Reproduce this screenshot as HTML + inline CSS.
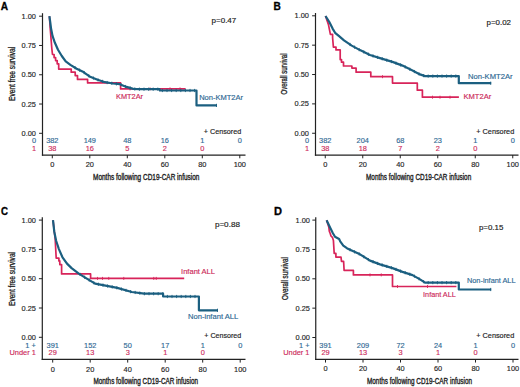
<!DOCTYPE html>
<html><head><meta charset="utf-8"><style>
html,body{margin:0;padding:0;background:#fff;width:520px;height:387px;overflow:hidden}
svg{display:block}
text{font-family:"Liberation Sans",sans-serif;stroke-width:0.16px;paint-order:stroke}
</style></head><body>
<svg width="520" height="387" viewBox="0 0 520 387">
<rect width="520" height="387" fill="#fff"/>
<text x="0.70" y="10.42" font-size="10.6" fill="#000" stroke="#000" style="stroke-width:0.3px" font-weight="bold" textLength="7.30" lengthAdjust="spacingAndGlyphs">A</text>
<text transform="translate(14.62,73.90) rotate(-90)" x="-27.00" y="0" font-size="8.4" fill="#222222" stroke="#222222" style="stroke-width:0.3px" textLength="54.00" lengthAdjust="spacingAndGlyphs">Event free survival</text>
<line x1="42.50" y1="13.20" x2="42.50" y2="155.70" stroke="#222222" stroke-width="1.2"/>
<line x1="41.90" y1="155.10" x2="245.50" y2="155.10" stroke="#222222" stroke-width="1.4"/>
<line x1="39.10" y1="16.20" x2="42.50" y2="16.20" stroke="#222222" stroke-width="1"/>
<text x="21.60" y="18.78" font-size="8.0" fill="#222222" stroke="#222222" style="stroke-width:0.15px" textLength="14.40" lengthAdjust="spacingAndGlyphs">1.00</text>
<line x1="39.10" y1="45.48" x2="42.50" y2="45.48" stroke="#222222" stroke-width="1"/>
<text x="21.60" y="48.06" font-size="8.0" fill="#222222" stroke="#222222" style="stroke-width:0.15px" textLength="14.40" lengthAdjust="spacingAndGlyphs">0.75</text>
<line x1="39.10" y1="74.75" x2="42.50" y2="74.75" stroke="#222222" stroke-width="1"/>
<text x="21.60" y="77.33" font-size="8.0" fill="#222222" stroke="#222222" style="stroke-width:0.15px" textLength="14.40" lengthAdjust="spacingAndGlyphs">0.50</text>
<line x1="39.10" y1="104.03" x2="42.50" y2="104.03" stroke="#222222" stroke-width="1"/>
<text x="21.60" y="106.61" font-size="8.0" fill="#222222" stroke="#222222" style="stroke-width:0.15px" textLength="14.40" lengthAdjust="spacingAndGlyphs">0.25</text>
<line x1="39.10" y1="133.30" x2="42.50" y2="133.30" stroke="#222222" stroke-width="1"/>
<text x="21.60" y="135.88" font-size="8.0" fill="#222222" stroke="#222222" style="stroke-width:0.15px" textLength="14.40" lengthAdjust="spacingAndGlyphs">0.00</text>
<line x1="52.30" y1="155.00" x2="52.30" y2="158.30" stroke="#222222" stroke-width="1"/>
<text x="50.24" y="166.78" font-size="8.0" fill="#222222" stroke="#222222" style="stroke-width:0.15px" textLength="4.12" lengthAdjust="spacingAndGlyphs">0</text>
<line x1="89.80" y1="155.00" x2="89.80" y2="158.30" stroke="#222222" stroke-width="1"/>
<text x="85.68" y="166.78" font-size="8.0" fill="#222222" stroke="#222222" style="stroke-width:0.15px" textLength="8.23" lengthAdjust="spacingAndGlyphs">20</text>
<line x1="127.30" y1="155.00" x2="127.30" y2="158.30" stroke="#222222" stroke-width="1"/>
<text x="123.18" y="166.78" font-size="8.0" fill="#222222" stroke="#222222" style="stroke-width:0.15px" textLength="8.23" lengthAdjust="spacingAndGlyphs">40</text>
<line x1="164.80" y1="155.00" x2="164.80" y2="158.30" stroke="#222222" stroke-width="1"/>
<text x="160.68" y="166.78" font-size="8.0" fill="#222222" stroke="#222222" style="stroke-width:0.15px" textLength="8.23" lengthAdjust="spacingAndGlyphs">60</text>
<line x1="202.30" y1="155.00" x2="202.30" y2="158.30" stroke="#222222" stroke-width="1"/>
<text x="198.18" y="166.78" font-size="8.0" fill="#222222" stroke="#222222" style="stroke-width:0.15px" textLength="8.23" lengthAdjust="spacingAndGlyphs">80</text>
<line x1="239.80" y1="155.00" x2="239.80" y2="158.30" stroke="#222222" stroke-width="1"/>
<text x="233.63" y="166.78" font-size="8.0" fill="#222222" stroke="#222222" style="stroke-width:0.15px" textLength="12.35" lengthAdjust="spacingAndGlyphs">100</text>
<text x="93.00" y="179.72" font-size="8.4" fill="#222222" stroke="#222222" style="stroke-width:0.35px" font-weight="normal" textLength="106.40" lengthAdjust="spacingAndGlyphs">Months following CD19-CAR infusion</text>
<text x="46.13" y="143.08" font-size="8.0" fill="#2f6994" stroke="#2f6994" style="stroke-width:0.15px" textLength="12.35" lengthAdjust="spacingAndGlyphs">382</text>
<text x="83.63" y="143.08" font-size="8.0" fill="#2f6994" stroke="#2f6994" style="stroke-width:0.15px" textLength="12.35" lengthAdjust="spacingAndGlyphs">149</text>
<text x="123.18" y="143.08" font-size="8.0" fill="#2f6994" stroke="#2f6994" style="stroke-width:0.15px" textLength="8.23" lengthAdjust="spacingAndGlyphs">48</text>
<text x="160.68" y="143.08" font-size="8.0" fill="#2f6994" stroke="#2f6994" style="stroke-width:0.15px" textLength="8.23" lengthAdjust="spacingAndGlyphs">16</text>
<text x="200.24" y="143.08" font-size="8.0" fill="#2f6994" stroke="#2f6994" style="stroke-width:0.15px" textLength="4.12" lengthAdjust="spacingAndGlyphs">1</text>
<text x="237.74" y="143.08" font-size="8.0" fill="#2f6994" stroke="#2f6994" style="stroke-width:0.15px" textLength="4.12" lengthAdjust="spacingAndGlyphs">0</text>
<text x="48.18" y="150.78" font-size="8.0" fill="#cc2a5a" stroke="#cc2a5a" style="stroke-width:0.15px" textLength="8.23" lengthAdjust="spacingAndGlyphs">38</text>
<text x="85.68" y="150.78" font-size="8.0" fill="#cc2a5a" stroke="#cc2a5a" style="stroke-width:0.15px" textLength="8.23" lengthAdjust="spacingAndGlyphs">16</text>
<text x="125.24" y="150.78" font-size="8.0" fill="#cc2a5a" stroke="#cc2a5a" style="stroke-width:0.15px" textLength="4.12" lengthAdjust="spacingAndGlyphs">5</text>
<text x="162.74" y="150.78" font-size="8.0" fill="#cc2a5a" stroke="#cc2a5a" style="stroke-width:0.15px" textLength="4.12" lengthAdjust="spacingAndGlyphs">2</text>
<text x="200.24" y="150.78" font-size="8.0" fill="#cc2a5a" stroke="#cc2a5a" style="stroke-width:0.15px" textLength="4.12" lengthAdjust="spacingAndGlyphs">0</text>
<text x="31.88" y="143.08" font-size="8.0" fill="#2f6994" stroke="#2f6994" style="stroke-width:0.15px" textLength="4.12" lengthAdjust="spacingAndGlyphs">0</text>
<text x="31.88" y="150.78" font-size="8.0" fill="#cc2a5a" stroke="#cc2a5a" style="stroke-width:0.15px" textLength="4.12" lengthAdjust="spacingAndGlyphs">1</text>
<text x="203.80" y="133.66" font-size="7.4" fill="#222222" stroke="#222222" font-weight="normal" textLength="37.40" lengthAdjust="spacingAndGlyphs">+ Censored</text>
<text x="211.50" y="23.36" font-size="7.4" fill="#222222" stroke="#222222" font-weight="normal" textLength="24.80" lengthAdjust="spacingAndGlyphs">p=0.47</text>
<polyline points="49.40,16.20 50.20,28.10 51.80,48.30 52.50,54.50 54.10,54.50 54.10,57.60 55.60,57.60 55.60,60.60 57.20,60.60 57.20,63.80 58.70,63.80 58.70,69.10 71.20,69.10 71.20,72.20 75.20,72.20 75.20,75.60 77.50,75.60 77.50,79.40 87.60,79.40 87.60,82.90 120.60,82.90 120.60,88.90 185.60,88.90" fill="none" stroke="#d8245a" stroke-width="1.7" stroke-linejoin="round" stroke-linecap="butt"/>
<line x1="130.00" y1="87.40" x2="130.00" y2="90.40" stroke="#d8245a" stroke-width="0.9"/>
<line x1="150.00" y1="87.40" x2="150.00" y2="90.40" stroke="#d8245a" stroke-width="0.9"/>
<line x1="170.00" y1="87.40" x2="170.00" y2="90.40" stroke="#d8245a" stroke-width="0.9"/>
<line x1="180.00" y1="87.40" x2="180.00" y2="90.40" stroke="#d8245a" stroke-width="0.9"/>
<polyline points="49.40,16.20 50.20,21.90 51.00,28.10 52.50,35.90 54.90,42.80 58.00,49.80 61.80,56.00 65.70,61.40 70.40,64.90 76.70,68.70 83.50,72.10 90.20,76.80 96.90,79.50 105.00,82.20 113.10,83.50 119.80,84.20 126.50,86.90 133.30,88.90 140.00,89.20 159.60,89.20 159.80,90.50 196.50,90.50 196.50,105.40 217.00,105.40" fill="none" stroke="#1b5f80" stroke-width="2.2" stroke-linejoin="round" stroke-linecap="butt"/>
<line x1="75.00" y1="66.07" x2="75.00" y2="69.27" stroke="#1b5f80" stroke-width="0.9"/>
<line x1="79.60" y1="68.55" x2="79.60" y2="71.75" stroke="#1b5f80" stroke-width="0.9"/>
<line x1="84.20" y1="70.99" x2="84.20" y2="74.19" stroke="#1b5f80" stroke-width="0.9"/>
<line x1="88.80" y1="74.22" x2="88.80" y2="77.42" stroke="#1b5f80" stroke-width="0.9"/>
<line x1="93.40" y1="76.49" x2="93.40" y2="79.69" stroke="#1b5f80" stroke-width="0.9"/>
<line x1="98.00" y1="78.27" x2="98.00" y2="81.47" stroke="#1b5f80" stroke-width="0.9"/>
<line x1="102.60" y1="79.80" x2="102.60" y2="83.00" stroke="#1b5f80" stroke-width="0.9"/>
<line x1="107.20" y1="80.95" x2="107.20" y2="84.15" stroke="#1b5f80" stroke-width="0.9"/>
<line x1="111.80" y1="81.69" x2="111.80" y2="84.89" stroke="#1b5f80" stroke-width="0.9"/>
<line x1="116.40" y1="82.24" x2="116.40" y2="85.44" stroke="#1b5f80" stroke-width="0.9"/>
<line x1="121.00" y1="83.08" x2="121.00" y2="86.28" stroke="#1b5f80" stroke-width="0.9"/>
<line x1="125.60" y1="84.94" x2="125.60" y2="88.14" stroke="#1b5f80" stroke-width="0.9"/>
<line x1="130.20" y1="86.39" x2="130.20" y2="89.59" stroke="#1b5f80" stroke-width="0.9"/>
<line x1="134.80" y1="87.37" x2="134.80" y2="90.57" stroke="#1b5f80" stroke-width="0.9"/>
<line x1="139.40" y1="87.57" x2="139.40" y2="90.77" stroke="#1b5f80" stroke-width="0.9"/>
<line x1="144.00" y1="87.60" x2="144.00" y2="90.80" stroke="#1b5f80" stroke-width="0.9"/>
<line x1="148.60" y1="87.60" x2="148.60" y2="90.80" stroke="#1b5f80" stroke-width="0.9"/>
<line x1="153.20" y1="87.60" x2="153.20" y2="90.80" stroke="#1b5f80" stroke-width="0.9"/>
<line x1="157.80" y1="87.60" x2="157.80" y2="90.80" stroke="#1b5f80" stroke-width="0.9"/>
<line x1="162.40" y1="88.90" x2="162.40" y2="92.10" stroke="#1b5f80" stroke-width="0.9"/>
<line x1="167.00" y1="88.90" x2="167.00" y2="92.10" stroke="#1b5f80" stroke-width="0.9"/>
<line x1="171.60" y1="88.90" x2="171.60" y2="92.10" stroke="#1b5f80" stroke-width="0.9"/>
<line x1="176.20" y1="88.90" x2="176.20" y2="92.10" stroke="#1b5f80" stroke-width="0.9"/>
<line x1="180.80" y1="88.90" x2="180.80" y2="92.10" stroke="#1b5f80" stroke-width="0.9"/>
<line x1="185.40" y1="88.90" x2="185.40" y2="92.10" stroke="#1b5f80" stroke-width="0.9"/>
<line x1="190.00" y1="88.90" x2="190.00" y2="92.10" stroke="#1b5f80" stroke-width="0.9"/>
<line x1="194.60" y1="88.90" x2="194.60" y2="92.10" stroke="#1b5f80" stroke-width="0.9"/>
<line x1="216.50" y1="103.80" x2="216.50" y2="107.00" stroke="#1b5f80" stroke-width="0.9"/>
<text x="116.00" y="99.06" font-size="7.4" fill="#cc2a5a" stroke="#cc2a5a" font-weight="normal" textLength="27.00" lengthAdjust="spacingAndGlyphs">KMT2Ar</text>
<text x="199.20" y="99.86" font-size="7.4" fill="#2f6994" stroke="#2f6994" font-weight="normal" textLength="43.80" lengthAdjust="spacingAndGlyphs">Non-KMT2Ar</text>
<text x="273.40" y="10.42" font-size="10.6" fill="#000" stroke="#000" style="stroke-width:0.3px" font-weight="bold" textLength="7.30" lengthAdjust="spacingAndGlyphs">B</text>
<text transform="translate(287.22,74.00) rotate(-90)" x="-20.50" y="0" font-size="8.4" fill="#222222" stroke="#222222" style="stroke-width:0.3px" textLength="41.00" lengthAdjust="spacingAndGlyphs">Overall survival</text>
<line x1="315.50" y1="13.00" x2="315.50" y2="155.70" stroke="#222222" stroke-width="1.2"/>
<line x1="314.90" y1="155.10" x2="518.50" y2="155.10" stroke="#222222" stroke-width="1.4"/>
<line x1="312.10" y1="15.80" x2="315.50" y2="15.80" stroke="#222222" stroke-width="1"/>
<text x="294.60" y="18.38" font-size="8.0" fill="#222222" stroke="#222222" style="stroke-width:0.15px" textLength="14.40" lengthAdjust="spacingAndGlyphs">1.00</text>
<line x1="312.10" y1="45.16" x2="315.50" y2="45.16" stroke="#222222" stroke-width="1"/>
<text x="294.60" y="47.74" font-size="8.0" fill="#222222" stroke="#222222" style="stroke-width:0.15px" textLength="14.40" lengthAdjust="spacingAndGlyphs">0.75</text>
<line x1="312.10" y1="74.53" x2="315.50" y2="74.53" stroke="#222222" stroke-width="1"/>
<text x="294.60" y="77.11" font-size="8.0" fill="#222222" stroke="#222222" style="stroke-width:0.15px" textLength="14.40" lengthAdjust="spacingAndGlyphs">0.50</text>
<line x1="312.10" y1="103.89" x2="315.50" y2="103.89" stroke="#222222" stroke-width="1"/>
<text x="294.60" y="106.47" font-size="8.0" fill="#222222" stroke="#222222" style="stroke-width:0.15px" textLength="14.40" lengthAdjust="spacingAndGlyphs">0.25</text>
<line x1="312.10" y1="133.25" x2="315.50" y2="133.25" stroke="#222222" stroke-width="1"/>
<text x="294.60" y="135.83" font-size="8.0" fill="#222222" stroke="#222222" style="stroke-width:0.15px" textLength="14.40" lengthAdjust="spacingAndGlyphs">0.00</text>
<line x1="325.25" y1="155.00" x2="325.25" y2="158.30" stroke="#222222" stroke-width="1"/>
<text x="323.19" y="167.08" font-size="8.0" fill="#222222" stroke="#222222" style="stroke-width:0.15px" textLength="4.12" lengthAdjust="spacingAndGlyphs">0</text>
<line x1="362.75" y1="155.00" x2="362.75" y2="158.30" stroke="#222222" stroke-width="1"/>
<text x="358.63" y="167.08" font-size="8.0" fill="#222222" stroke="#222222" style="stroke-width:0.15px" textLength="8.23" lengthAdjust="spacingAndGlyphs">20</text>
<line x1="400.25" y1="155.00" x2="400.25" y2="158.30" stroke="#222222" stroke-width="1"/>
<text x="396.13" y="167.08" font-size="8.0" fill="#222222" stroke="#222222" style="stroke-width:0.15px" textLength="8.23" lengthAdjust="spacingAndGlyphs">40</text>
<line x1="437.75" y1="155.00" x2="437.75" y2="158.30" stroke="#222222" stroke-width="1"/>
<text x="433.63" y="167.08" font-size="8.0" fill="#222222" stroke="#222222" style="stroke-width:0.15px" textLength="8.23" lengthAdjust="spacingAndGlyphs">60</text>
<line x1="475.25" y1="155.00" x2="475.25" y2="158.30" stroke="#222222" stroke-width="1"/>
<text x="471.13" y="167.08" font-size="8.0" fill="#222222" stroke="#222222" style="stroke-width:0.15px" textLength="8.23" lengthAdjust="spacingAndGlyphs">80</text>
<line x1="512.75" y1="155.00" x2="512.75" y2="158.30" stroke="#222222" stroke-width="1"/>
<text x="506.58" y="167.08" font-size="8.0" fill="#222222" stroke="#222222" style="stroke-width:0.15px" textLength="12.35" lengthAdjust="spacingAndGlyphs">100</text>
<text x="366.00" y="179.92" font-size="8.4" fill="#222222" stroke="#222222" style="stroke-width:0.35px" font-weight="normal" textLength="105.25" lengthAdjust="spacingAndGlyphs">Months following CD19-CAR infusion</text>
<text x="319.08" y="143.08" font-size="8.0" fill="#2f6994" stroke="#2f6994" style="stroke-width:0.15px" textLength="12.35" lengthAdjust="spacingAndGlyphs">382</text>
<text x="356.58" y="143.08" font-size="8.0" fill="#2f6994" stroke="#2f6994" style="stroke-width:0.15px" textLength="12.35" lengthAdjust="spacingAndGlyphs">204</text>
<text x="396.13" y="143.08" font-size="8.0" fill="#2f6994" stroke="#2f6994" style="stroke-width:0.15px" textLength="8.23" lengthAdjust="spacingAndGlyphs">68</text>
<text x="433.63" y="143.08" font-size="8.0" fill="#2f6994" stroke="#2f6994" style="stroke-width:0.15px" textLength="8.23" lengthAdjust="spacingAndGlyphs">23</text>
<text x="473.19" y="143.08" font-size="8.0" fill="#2f6994" stroke="#2f6994" style="stroke-width:0.15px" textLength="4.12" lengthAdjust="spacingAndGlyphs">1</text>
<text x="510.69" y="143.08" font-size="8.0" fill="#2f6994" stroke="#2f6994" style="stroke-width:0.15px" textLength="4.12" lengthAdjust="spacingAndGlyphs">0</text>
<text x="321.13" y="150.78" font-size="8.0" fill="#cc2a5a" stroke="#cc2a5a" style="stroke-width:0.15px" textLength="8.23" lengthAdjust="spacingAndGlyphs">38</text>
<text x="358.63" y="150.78" font-size="8.0" fill="#cc2a5a" stroke="#cc2a5a" style="stroke-width:0.15px" textLength="8.23" lengthAdjust="spacingAndGlyphs">18</text>
<text x="398.19" y="150.78" font-size="8.0" fill="#cc2a5a" stroke="#cc2a5a" style="stroke-width:0.15px" textLength="4.12" lengthAdjust="spacingAndGlyphs">7</text>
<text x="435.69" y="150.78" font-size="8.0" fill="#cc2a5a" stroke="#cc2a5a" style="stroke-width:0.15px" textLength="4.12" lengthAdjust="spacingAndGlyphs">2</text>
<text x="473.19" y="150.78" font-size="8.0" fill="#cc2a5a" stroke="#cc2a5a" style="stroke-width:0.15px" textLength="4.12" lengthAdjust="spacingAndGlyphs">0</text>
<text x="304.88" y="143.08" font-size="8.0" fill="#2f6994" stroke="#2f6994" style="stroke-width:0.15px" textLength="4.12" lengthAdjust="spacingAndGlyphs">0</text>
<text x="304.88" y="150.78" font-size="8.0" fill="#cc2a5a" stroke="#cc2a5a" style="stroke-width:0.15px" textLength="4.12" lengthAdjust="spacingAndGlyphs">1</text>
<text x="476.25" y="133.81" font-size="7.4" fill="#222222" stroke="#222222" font-weight="normal" textLength="38.00" lengthAdjust="spacingAndGlyphs">+ Censored</text>
<text x="486.60" y="25.26" font-size="7.4" fill="#222222" stroke="#222222" font-weight="normal" textLength="24.40" lengthAdjust="spacingAndGlyphs">p=0.02</text>
<polyline points="325.50,16.00 328.40,24.40 330.40,34.40 332.60,34.40 332.60,37.80 333.40,47.10 336.00,47.10 336.00,49.90 340.20,49.90 340.20,59.60 341.50,59.60 341.50,62.20 343.50,62.20 343.50,66.00 351.90,66.00 351.90,68.10 356.10,68.10 356.10,72.20 370.80,72.20 370.80,76.70 392.50,76.70 392.50,83.10 417.30,83.10 417.30,90.20 422.40,90.20 422.40,97.20 458.90,97.20" fill="none" stroke="#d8245a" stroke-width="1.7" stroke-linejoin="round" stroke-linecap="butt"/>
<line x1="382.50" y1="75.20" x2="382.50" y2="78.20" stroke="#d8245a" stroke-width="0.9"/>
<line x1="432.50" y1="95.70" x2="432.50" y2="98.70" stroke="#d8245a" stroke-width="0.9"/>
<line x1="440.00" y1="95.70" x2="440.00" y2="98.70" stroke="#d8245a" stroke-width="0.9"/>
<line x1="450.00" y1="95.70" x2="450.00" y2="98.70" stroke="#d8245a" stroke-width="0.9"/>
<polyline points="325.50,16.00 329.20,21.80 332.60,28.60 335.10,32.80 338.80,35.90 344.00,40.40 351.70,45.60 360.00,50.10 370.00,55.00 380.00,58.10 392.50,61.90 402.50,65.60 412.50,70.60 420.00,74.40 425.00,76.10 458.80,76.10 458.80,83.20 491.20,83.20" fill="none" stroke="#1b5f80" stroke-width="2.2" stroke-linejoin="round" stroke-linecap="butt"/>
<line x1="350.00" y1="42.85" x2="350.00" y2="46.05" stroke="#1b5f80" stroke-width="0.9"/>
<line x1="354.60" y1="45.57" x2="354.60" y2="48.77" stroke="#1b5f80" stroke-width="0.9"/>
<line x1="359.20" y1="48.07" x2="359.20" y2="51.27" stroke="#1b5f80" stroke-width="0.9"/>
<line x1="363.80" y1="50.36" x2="363.80" y2="53.56" stroke="#1b5f80" stroke-width="0.9"/>
<line x1="368.40" y1="52.62" x2="368.40" y2="55.82" stroke="#1b5f80" stroke-width="0.9"/>
<line x1="373.00" y1="54.33" x2="373.00" y2="57.53" stroke="#1b5f80" stroke-width="0.9"/>
<line x1="377.60" y1="55.76" x2="377.60" y2="58.96" stroke="#1b5f80" stroke-width="0.9"/>
<line x1="382.20" y1="57.17" x2="382.20" y2="60.37" stroke="#1b5f80" stroke-width="0.9"/>
<line x1="386.80" y1="58.57" x2="386.80" y2="61.77" stroke="#1b5f80" stroke-width="0.9"/>
<line x1="391.40" y1="59.97" x2="391.40" y2="63.17" stroke="#1b5f80" stroke-width="0.9"/>
<line x1="396.00" y1="61.60" x2="396.00" y2="64.80" stroke="#1b5f80" stroke-width="0.9"/>
<line x1="400.60" y1="63.30" x2="400.60" y2="66.50" stroke="#1b5f80" stroke-width="0.9"/>
<line x1="405.20" y1="65.35" x2="405.20" y2="68.55" stroke="#1b5f80" stroke-width="0.9"/>
<line x1="409.80" y1="67.65" x2="409.80" y2="70.85" stroke="#1b5f80" stroke-width="0.9"/>
<line x1="414.40" y1="69.96" x2="414.40" y2="73.16" stroke="#1b5f80" stroke-width="0.9"/>
<line x1="419.00" y1="72.29" x2="419.00" y2="75.49" stroke="#1b5f80" stroke-width="0.9"/>
<line x1="423.60" y1="74.02" x2="423.60" y2="77.22" stroke="#1b5f80" stroke-width="0.9"/>
<line x1="428.20" y1="74.50" x2="428.20" y2="77.70" stroke="#1b5f80" stroke-width="0.9"/>
<line x1="432.80" y1="74.50" x2="432.80" y2="77.70" stroke="#1b5f80" stroke-width="0.9"/>
<line x1="437.40" y1="74.50" x2="437.40" y2="77.70" stroke="#1b5f80" stroke-width="0.9"/>
<line x1="442.00" y1="74.50" x2="442.00" y2="77.70" stroke="#1b5f80" stroke-width="0.9"/>
<line x1="446.60" y1="74.50" x2="446.60" y2="77.70" stroke="#1b5f80" stroke-width="0.9"/>
<line x1="451.20" y1="74.50" x2="451.20" y2="77.70" stroke="#1b5f80" stroke-width="0.9"/>
<line x1="455.80" y1="74.50" x2="455.80" y2="77.70" stroke="#1b5f80" stroke-width="0.9"/>
<line x1="490.70" y1="81.60" x2="490.70" y2="84.80" stroke="#1b5f80" stroke-width="0.9"/>
<text x="468.10" y="79.46" font-size="7.4" fill="#2f6994" stroke="#2f6994" font-weight="normal" textLength="44.40" lengthAdjust="spacingAndGlyphs">Non-KMT2Ar</text>
<text x="463.50" y="99.16" font-size="7.4" fill="#cc2a5a" stroke="#cc2a5a" font-weight="normal" textLength="27.70" lengthAdjust="spacingAndGlyphs">KMT2Ar</text>
<text x="0.90" y="214.72" font-size="10.6" fill="#000" stroke="#000" style="stroke-width:0.3px" font-weight="bold" textLength="7.00" lengthAdjust="spacingAndGlyphs">C</text>
<text transform="translate(14.62,279.00) rotate(-90)" x="-27.00" y="0" font-size="8.4" fill="#222222" stroke="#222222" style="stroke-width:0.3px" textLength="54.00" lengthAdjust="spacingAndGlyphs">Event free survival</text>
<line x1="42.30" y1="217.30" x2="42.30" y2="360.00" stroke="#222222" stroke-width="1.2"/>
<line x1="41.70" y1="359.40" x2="245.50" y2="359.40" stroke="#222222" stroke-width="1.4"/>
<line x1="38.90" y1="220.10" x2="42.30" y2="220.10" stroke="#222222" stroke-width="1"/>
<text x="21.60" y="222.68" font-size="8.0" fill="#222222" stroke="#222222" style="stroke-width:0.15px" textLength="14.40" lengthAdjust="spacingAndGlyphs">1.00</text>
<line x1="38.90" y1="249.40" x2="42.30" y2="249.40" stroke="#222222" stroke-width="1"/>
<text x="21.60" y="251.98" font-size="8.0" fill="#222222" stroke="#222222" style="stroke-width:0.15px" textLength="14.40" lengthAdjust="spacingAndGlyphs">0.75</text>
<line x1="38.90" y1="278.70" x2="42.30" y2="278.70" stroke="#222222" stroke-width="1"/>
<text x="21.60" y="281.28" font-size="8.0" fill="#222222" stroke="#222222" style="stroke-width:0.15px" textLength="14.40" lengthAdjust="spacingAndGlyphs">0.50</text>
<line x1="38.90" y1="308.00" x2="42.30" y2="308.00" stroke="#222222" stroke-width="1"/>
<text x="21.60" y="310.58" font-size="8.0" fill="#222222" stroke="#222222" style="stroke-width:0.15px" textLength="14.40" lengthAdjust="spacingAndGlyphs">0.25</text>
<line x1="38.90" y1="337.30" x2="42.30" y2="337.30" stroke="#222222" stroke-width="1"/>
<text x="21.60" y="339.88" font-size="8.0" fill="#222222" stroke="#222222" style="stroke-width:0.15px" textLength="14.40" lengthAdjust="spacingAndGlyphs">0.00</text>
<line x1="52.70" y1="359.30" x2="52.70" y2="362.60" stroke="#222222" stroke-width="1"/>
<text x="50.64" y="371.58" font-size="8.0" fill="#222222" stroke="#222222" style="stroke-width:0.15px" textLength="4.12" lengthAdjust="spacingAndGlyphs">0</text>
<line x1="90.20" y1="359.30" x2="90.20" y2="362.60" stroke="#222222" stroke-width="1"/>
<text x="86.08" y="371.58" font-size="8.0" fill="#222222" stroke="#222222" style="stroke-width:0.15px" textLength="8.23" lengthAdjust="spacingAndGlyphs">20</text>
<line x1="127.70" y1="359.30" x2="127.70" y2="362.60" stroke="#222222" stroke-width="1"/>
<text x="123.58" y="371.58" font-size="8.0" fill="#222222" stroke="#222222" style="stroke-width:0.15px" textLength="8.23" lengthAdjust="spacingAndGlyphs">40</text>
<line x1="165.20" y1="359.30" x2="165.20" y2="362.60" stroke="#222222" stroke-width="1"/>
<text x="161.08" y="371.58" font-size="8.0" fill="#222222" stroke="#222222" style="stroke-width:0.15px" textLength="8.23" lengthAdjust="spacingAndGlyphs">60</text>
<line x1="202.70" y1="359.30" x2="202.70" y2="362.60" stroke="#222222" stroke-width="1"/>
<text x="198.58" y="371.58" font-size="8.0" fill="#222222" stroke="#222222" style="stroke-width:0.15px" textLength="8.23" lengthAdjust="spacingAndGlyphs">80</text>
<line x1="240.20" y1="359.30" x2="240.20" y2="362.60" stroke="#222222" stroke-width="1"/>
<text x="234.03" y="371.58" font-size="8.0" fill="#222222" stroke="#222222" style="stroke-width:0.15px" textLength="12.35" lengthAdjust="spacingAndGlyphs">100</text>
<text x="93.50" y="384.12" font-size="8.4" fill="#222222" stroke="#222222" style="stroke-width:0.35px" font-weight="normal" textLength="104.50" lengthAdjust="spacingAndGlyphs">Months following CD19-CAR infusion</text>
<text x="46.53" y="347.58" font-size="8.0" fill="#2f6994" stroke="#2f6994" style="stroke-width:0.15px" textLength="12.35" lengthAdjust="spacingAndGlyphs">391</text>
<text x="84.03" y="347.58" font-size="8.0" fill="#2f6994" stroke="#2f6994" style="stroke-width:0.15px" textLength="12.35" lengthAdjust="spacingAndGlyphs">152</text>
<text x="123.58" y="347.58" font-size="8.0" fill="#2f6994" stroke="#2f6994" style="stroke-width:0.15px" textLength="8.23" lengthAdjust="spacingAndGlyphs">50</text>
<text x="161.08" y="347.58" font-size="8.0" fill="#2f6994" stroke="#2f6994" style="stroke-width:0.15px" textLength="8.23" lengthAdjust="spacingAndGlyphs">17</text>
<text x="200.64" y="347.58" font-size="8.0" fill="#2f6994" stroke="#2f6994" style="stroke-width:0.15px" textLength="4.12" lengthAdjust="spacingAndGlyphs">1</text>
<text x="238.14" y="347.58" font-size="8.0" fill="#2f6994" stroke="#2f6994" style="stroke-width:0.15px" textLength="4.12" lengthAdjust="spacingAndGlyphs">0</text>
<text x="48.58" y="355.18" font-size="8.0" fill="#cc2a5a" stroke="#cc2a5a" style="stroke-width:0.15px" textLength="8.23" lengthAdjust="spacingAndGlyphs">29</text>
<text x="86.08" y="355.18" font-size="8.0" fill="#cc2a5a" stroke="#cc2a5a" style="stroke-width:0.15px" textLength="8.23" lengthAdjust="spacingAndGlyphs">13</text>
<text x="125.64" y="355.18" font-size="8.0" fill="#cc2a5a" stroke="#cc2a5a" style="stroke-width:0.15px" textLength="4.12" lengthAdjust="spacingAndGlyphs">3</text>
<text x="163.14" y="355.18" font-size="8.0" fill="#cc2a5a" stroke="#cc2a5a" style="stroke-width:0.15px" textLength="4.12" lengthAdjust="spacingAndGlyphs">1</text>
<text x="200.64" y="355.18" font-size="8.0" fill="#cc2a5a" stroke="#cc2a5a" style="stroke-width:0.15px" textLength="4.12" lengthAdjust="spacingAndGlyphs">0</text>
<text x="25.31" y="347.58" font-size="8.0" fill="#2f6994" stroke="#2f6994" style="stroke-width:0.15px" textLength="10.49" lengthAdjust="spacingAndGlyphs">1 +</text>
<text x="9.48" y="355.18" font-size="8.0" fill="#cc2a5a" stroke="#cc2a5a" style="stroke-width:0.15px" textLength="26.32" lengthAdjust="spacingAndGlyphs">Under 1</text>
<text x="204.25" y="338.06" font-size="7.4" fill="#222222" stroke="#222222" font-weight="normal" textLength="37.00" lengthAdjust="spacingAndGlyphs">+ Censored</text>
<text x="214.90" y="227.46" font-size="7.4" fill="#222222" stroke="#222222" font-weight="normal" textLength="25.00" lengthAdjust="spacingAndGlyphs">p=0.88</text>
<polyline points="53.00,220.20 55.20,239.20 56.20,258.20 58.90,258.20 58.90,260.90 59.80,260.90 59.80,264.60 61.60,264.60 61.60,273.90 90.60,273.90 90.60,278.40 184.20,278.40" fill="none" stroke="#d8245a" stroke-width="1.7" stroke-linejoin="round" stroke-linecap="butt"/>
<line x1="97.50" y1="276.90" x2="97.50" y2="279.90" stroke="#d8245a" stroke-width="0.9"/>
<line x1="102.50" y1="276.90" x2="102.50" y2="279.90" stroke="#d8245a" stroke-width="0.9"/>
<line x1="108.75" y1="276.90" x2="108.75" y2="279.90" stroke="#d8245a" stroke-width="0.9"/>
<line x1="123.75" y1="276.90" x2="123.75" y2="279.90" stroke="#d8245a" stroke-width="0.9"/>
<line x1="153.75" y1="276.90" x2="153.75" y2="279.90" stroke="#d8245a" stroke-width="0.9"/>
<line x1="156.25" y1="276.90" x2="156.25" y2="279.90" stroke="#d8245a" stroke-width="0.9"/>
<polyline points="53.00,220.20 54.30,231.90 56.20,241.00 58.90,249.10 62.50,257.30 67.00,263.60 71.60,268.10 78.80,273.60 86.00,278.10 95.10,283.60 117.30,287.90 131.80,292.00 144.20,293.70 163.10,293.70 163.10,296.50 198.90,296.50 198.90,310.30 218.00,310.30" fill="none" stroke="#1b5f80" stroke-width="2.2" stroke-linejoin="round" stroke-linecap="butt"/>
<line x1="80.00" y1="272.75" x2="80.00" y2="275.95" stroke="#1b5f80" stroke-width="0.9"/>
<line x1="84.60" y1="275.62" x2="84.60" y2="278.83" stroke="#1b5f80" stroke-width="0.9"/>
<line x1="89.20" y1="278.43" x2="89.20" y2="281.63" stroke="#1b5f80" stroke-width="0.9"/>
<line x1="93.80" y1="281.21" x2="93.80" y2="284.41" stroke="#1b5f80" stroke-width="0.9"/>
<line x1="98.40" y1="282.64" x2="98.40" y2="285.84" stroke="#1b5f80" stroke-width="0.9"/>
<line x1="103.00" y1="283.53" x2="103.00" y2="286.73" stroke="#1b5f80" stroke-width="0.9"/>
<line x1="107.60" y1="284.42" x2="107.60" y2="287.62" stroke="#1b5f80" stroke-width="0.9"/>
<line x1="112.20" y1="285.31" x2="112.20" y2="288.51" stroke="#1b5f80" stroke-width="0.9"/>
<line x1="116.80" y1="286.20" x2="116.80" y2="289.40" stroke="#1b5f80" stroke-width="0.9"/>
<line x1="121.40" y1="287.46" x2="121.40" y2="290.66" stroke="#1b5f80" stroke-width="0.9"/>
<line x1="126.00" y1="288.76" x2="126.00" y2="291.96" stroke="#1b5f80" stroke-width="0.9"/>
<line x1="130.60" y1="290.06" x2="130.60" y2="293.26" stroke="#1b5f80" stroke-width="0.9"/>
<line x1="135.20" y1="290.87" x2="135.20" y2="294.07" stroke="#1b5f80" stroke-width="0.9"/>
<line x1="139.80" y1="291.50" x2="139.80" y2="294.70" stroke="#1b5f80" stroke-width="0.9"/>
<line x1="144.40" y1="292.10" x2="144.40" y2="295.30" stroke="#1b5f80" stroke-width="0.9"/>
<line x1="149.00" y1="292.10" x2="149.00" y2="295.30" stroke="#1b5f80" stroke-width="0.9"/>
<line x1="153.60" y1="292.10" x2="153.60" y2="295.30" stroke="#1b5f80" stroke-width="0.9"/>
<line x1="158.20" y1="292.10" x2="158.20" y2="295.30" stroke="#1b5f80" stroke-width="0.9"/>
<line x1="162.80" y1="292.10" x2="162.80" y2="295.30" stroke="#1b5f80" stroke-width="0.9"/>
<line x1="167.40" y1="294.90" x2="167.40" y2="298.10" stroke="#1b5f80" stroke-width="0.9"/>
<line x1="172.00" y1="294.90" x2="172.00" y2="298.10" stroke="#1b5f80" stroke-width="0.9"/>
<line x1="176.60" y1="294.90" x2="176.60" y2="298.10" stroke="#1b5f80" stroke-width="0.9"/>
<line x1="181.20" y1="294.90" x2="181.20" y2="298.10" stroke="#1b5f80" stroke-width="0.9"/>
<line x1="185.80" y1="294.90" x2="185.80" y2="298.10" stroke="#1b5f80" stroke-width="0.9"/>
<line x1="190.40" y1="294.90" x2="190.40" y2="298.10" stroke="#1b5f80" stroke-width="0.9"/>
<line x1="195.00" y1="294.90" x2="195.00" y2="298.10" stroke="#1b5f80" stroke-width="0.9"/>
<line x1="217.50" y1="308.70" x2="217.50" y2="311.90" stroke="#1b5f80" stroke-width="0.9"/>
<text x="181.10" y="274.16" font-size="7.4" fill="#cc2a5a" stroke="#cc2a5a" font-weight="normal" textLength="33.90" lengthAdjust="spacingAndGlyphs">Infant ALL</text>
<text x="188.00" y="318.76" font-size="7.4" fill="#2f6994" stroke="#2f6994" font-weight="normal" textLength="50.20" lengthAdjust="spacingAndGlyphs">Non-infant ALL</text>
<text x="274.00" y="214.52" font-size="10.6" fill="#000" stroke="#000" style="stroke-width:0.3px" font-weight="bold" textLength="8.00" lengthAdjust="spacingAndGlyphs">D</text>
<text transform="translate(287.72,278.60) rotate(-90)" x="-21.50" y="0" font-size="8.4" fill="#222222" stroke="#222222" style="stroke-width:0.3px" textLength="43.00" lengthAdjust="spacingAndGlyphs">Overall survival</text>
<line x1="315.75" y1="217.30" x2="315.75" y2="359.95" stroke="#222222" stroke-width="1.2"/>
<line x1="315.15" y1="359.35" x2="518.50" y2="359.35" stroke="#222222" stroke-width="1.4"/>
<line x1="312.35" y1="220.10" x2="315.75" y2="220.10" stroke="#222222" stroke-width="1"/>
<text x="295.60" y="222.68" font-size="8.0" fill="#222222" stroke="#222222" style="stroke-width:0.15px" textLength="14.40" lengthAdjust="spacingAndGlyphs">1.00</text>
<line x1="312.35" y1="249.45" x2="315.75" y2="249.45" stroke="#222222" stroke-width="1"/>
<text x="295.60" y="252.03" font-size="8.0" fill="#222222" stroke="#222222" style="stroke-width:0.15px" textLength="14.40" lengthAdjust="spacingAndGlyphs">0.75</text>
<line x1="312.35" y1="278.80" x2="315.75" y2="278.80" stroke="#222222" stroke-width="1"/>
<text x="295.60" y="281.38" font-size="8.0" fill="#222222" stroke="#222222" style="stroke-width:0.15px" textLength="14.40" lengthAdjust="spacingAndGlyphs">0.50</text>
<line x1="312.35" y1="308.15" x2="315.75" y2="308.15" stroke="#222222" stroke-width="1"/>
<text x="295.60" y="310.73" font-size="8.0" fill="#222222" stroke="#222222" style="stroke-width:0.15px" textLength="14.40" lengthAdjust="spacingAndGlyphs">0.25</text>
<line x1="312.35" y1="337.50" x2="315.75" y2="337.50" stroke="#222222" stroke-width="1"/>
<text x="295.60" y="340.08" font-size="8.0" fill="#222222" stroke="#222222" style="stroke-width:0.15px" textLength="14.40" lengthAdjust="spacingAndGlyphs">0.00</text>
<line x1="325.50" y1="359.25" x2="325.50" y2="362.55" stroke="#222222" stroke-width="1"/>
<text x="323.44" y="371.08" font-size="8.0" fill="#222222" stroke="#222222" style="stroke-width:0.15px" textLength="4.12" lengthAdjust="spacingAndGlyphs">0</text>
<line x1="363.00" y1="359.25" x2="363.00" y2="362.55" stroke="#222222" stroke-width="1"/>
<text x="358.88" y="371.08" font-size="8.0" fill="#222222" stroke="#222222" style="stroke-width:0.15px" textLength="8.23" lengthAdjust="spacingAndGlyphs">20</text>
<line x1="400.50" y1="359.25" x2="400.50" y2="362.55" stroke="#222222" stroke-width="1"/>
<text x="396.38" y="371.08" font-size="8.0" fill="#222222" stroke="#222222" style="stroke-width:0.15px" textLength="8.23" lengthAdjust="spacingAndGlyphs">40</text>
<line x1="438.00" y1="359.25" x2="438.00" y2="362.55" stroke="#222222" stroke-width="1"/>
<text x="433.88" y="371.08" font-size="8.0" fill="#222222" stroke="#222222" style="stroke-width:0.15px" textLength="8.23" lengthAdjust="spacingAndGlyphs">60</text>
<line x1="475.50" y1="359.25" x2="475.50" y2="362.55" stroke="#222222" stroke-width="1"/>
<text x="471.38" y="371.08" font-size="8.0" fill="#222222" stroke="#222222" style="stroke-width:0.15px" textLength="8.23" lengthAdjust="spacingAndGlyphs">80</text>
<line x1="513.00" y1="359.25" x2="513.00" y2="362.55" stroke="#222222" stroke-width="1"/>
<text x="506.83" y="371.08" font-size="8.0" fill="#222222" stroke="#222222" style="stroke-width:0.15px" textLength="12.35" lengthAdjust="spacingAndGlyphs">100</text>
<text x="367.00" y="383.92" font-size="8.4" fill="#222222" stroke="#222222" style="stroke-width:0.35px" font-weight="normal" textLength="105.00" lengthAdjust="spacingAndGlyphs">Months following CD19-CAR infusion</text>
<text x="319.33" y="347.58" font-size="8.0" fill="#2f6994" stroke="#2f6994" style="stroke-width:0.15px" textLength="12.35" lengthAdjust="spacingAndGlyphs">391</text>
<text x="356.83" y="347.58" font-size="8.0" fill="#2f6994" stroke="#2f6994" style="stroke-width:0.15px" textLength="12.35" lengthAdjust="spacingAndGlyphs">209</text>
<text x="396.38" y="347.58" font-size="8.0" fill="#2f6994" stroke="#2f6994" style="stroke-width:0.15px" textLength="8.23" lengthAdjust="spacingAndGlyphs">72</text>
<text x="433.88" y="347.58" font-size="8.0" fill="#2f6994" stroke="#2f6994" style="stroke-width:0.15px" textLength="8.23" lengthAdjust="spacingAndGlyphs">24</text>
<text x="473.44" y="347.58" font-size="8.0" fill="#2f6994" stroke="#2f6994" style="stroke-width:0.15px" textLength="4.12" lengthAdjust="spacingAndGlyphs">1</text>
<text x="510.94" y="347.58" font-size="8.0" fill="#2f6994" stroke="#2f6994" style="stroke-width:0.15px" textLength="4.12" lengthAdjust="spacingAndGlyphs">0</text>
<text x="321.38" y="355.08" font-size="8.0" fill="#cc2a5a" stroke="#cc2a5a" style="stroke-width:0.15px" textLength="8.23" lengthAdjust="spacingAndGlyphs">29</text>
<text x="358.88" y="355.08" font-size="8.0" fill="#cc2a5a" stroke="#cc2a5a" style="stroke-width:0.15px" textLength="8.23" lengthAdjust="spacingAndGlyphs">13</text>
<text x="398.44" y="355.08" font-size="8.0" fill="#cc2a5a" stroke="#cc2a5a" style="stroke-width:0.15px" textLength="4.12" lengthAdjust="spacingAndGlyphs">3</text>
<text x="435.94" y="355.08" font-size="8.0" fill="#cc2a5a" stroke="#cc2a5a" style="stroke-width:0.15px" textLength="4.12" lengthAdjust="spacingAndGlyphs">1</text>
<text x="473.44" y="355.08" font-size="8.0" fill="#cc2a5a" stroke="#cc2a5a" style="stroke-width:0.15px" textLength="4.12" lengthAdjust="spacingAndGlyphs">0</text>
<text x="299.01" y="347.58" font-size="8.0" fill="#2f6994" stroke="#2f6994" style="stroke-width:0.15px" textLength="10.49" lengthAdjust="spacingAndGlyphs">1 +</text>
<text x="283.18" y="355.08" font-size="8.0" fill="#cc2a5a" stroke="#cc2a5a" style="stroke-width:0.15px" textLength="26.32" lengthAdjust="spacingAndGlyphs">Under 1</text>
<text x="476.25" y="338.06" font-size="7.4" fill="#222222" stroke="#222222" font-weight="normal" textLength="38.00" lengthAdjust="spacingAndGlyphs">+ Censored</text>
<text x="478.90" y="229.96" font-size="7.4" fill="#222222" stroke="#222222" font-weight="normal" textLength="24.40" lengthAdjust="spacingAndGlyphs">p=0.15</text>
<polyline points="326.60,220.20 328.80,227.00 329.30,231.10 330.30,233.70 330.90,235.80 332.40,237.30 333.40,240.40 334.20,253.40 335.90,253.40 335.90,257.10 341.00,257.10 341.50,261.30 343.60,261.30 344.10,270.40 353.40,270.40 353.40,274.90 392.50,274.90 392.50,286.50 456.40,286.50" fill="none" stroke="#d8245a" stroke-width="1.7" stroke-linejoin="round" stroke-linecap="butt"/>
<line x1="370.00" y1="273.40" x2="370.00" y2="276.40" stroke="#d8245a" stroke-width="0.9"/>
<line x1="381.25" y1="273.40" x2="381.25" y2="276.40" stroke="#d8245a" stroke-width="0.9"/>
<line x1="397.50" y1="285.00" x2="397.50" y2="288.00" stroke="#d8245a" stroke-width="0.9"/>
<line x1="427.50" y1="285.00" x2="427.50" y2="288.00" stroke="#d8245a" stroke-width="0.9"/>
<polyline points="326.60,220.20 330.30,228.00 332.90,233.20 335.00,236.80 339.10,238.90 340.20,241.40 343.30,245.60 346.90,248.20 350.00,249.70 360.00,254.35 370.00,260.60 380.00,264.35 392.50,268.10 402.50,271.85 412.50,275.10 420.00,279.35 425.00,282.60 458.80,282.60 458.80,289.50 491.20,289.50" fill="none" stroke="#1b5f80" stroke-width="2.2" stroke-linejoin="round" stroke-linecap="butt"/>
<line x1="350.00" y1="248.10" x2="350.00" y2="251.30" stroke="#1b5f80" stroke-width="0.9"/>
<line x1="354.60" y1="250.24" x2="354.60" y2="253.44" stroke="#1b5f80" stroke-width="0.9"/>
<line x1="359.20" y1="252.38" x2="359.20" y2="255.58" stroke="#1b5f80" stroke-width="0.9"/>
<line x1="363.80" y1="255.13" x2="363.80" y2="258.33" stroke="#1b5f80" stroke-width="0.9"/>
<line x1="368.40" y1="258.00" x2="368.40" y2="261.20" stroke="#1b5f80" stroke-width="0.9"/>
<line x1="373.00" y1="260.13" x2="373.00" y2="263.33" stroke="#1b5f80" stroke-width="0.9"/>
<line x1="377.60" y1="261.85" x2="377.60" y2="265.05" stroke="#1b5f80" stroke-width="0.9"/>
<line x1="382.20" y1="263.41" x2="382.20" y2="266.61" stroke="#1b5f80" stroke-width="0.9"/>
<line x1="386.80" y1="264.79" x2="386.80" y2="267.99" stroke="#1b5f80" stroke-width="0.9"/>
<line x1="391.40" y1="266.17" x2="391.40" y2="269.37" stroke="#1b5f80" stroke-width="0.9"/>
<line x1="396.00" y1="267.81" x2="396.00" y2="271.01" stroke="#1b5f80" stroke-width="0.9"/>
<line x1="400.60" y1="269.54" x2="400.60" y2="272.74" stroke="#1b5f80" stroke-width="0.9"/>
<line x1="405.20" y1="271.13" x2="405.20" y2="274.33" stroke="#1b5f80" stroke-width="0.9"/>
<line x1="409.80" y1="272.62" x2="409.80" y2="275.82" stroke="#1b5f80" stroke-width="0.9"/>
<line x1="414.40" y1="274.58" x2="414.40" y2="277.78" stroke="#1b5f80" stroke-width="0.9"/>
<line x1="419.00" y1="277.18" x2="419.00" y2="280.38" stroke="#1b5f80" stroke-width="0.9"/>
<line x1="423.60" y1="280.09" x2="423.60" y2="283.29" stroke="#1b5f80" stroke-width="0.9"/>
<line x1="428.20" y1="281.00" x2="428.20" y2="284.20" stroke="#1b5f80" stroke-width="0.9"/>
<line x1="432.80" y1="281.00" x2="432.80" y2="284.20" stroke="#1b5f80" stroke-width="0.9"/>
<line x1="437.40" y1="281.00" x2="437.40" y2="284.20" stroke="#1b5f80" stroke-width="0.9"/>
<line x1="442.00" y1="281.00" x2="442.00" y2="284.20" stroke="#1b5f80" stroke-width="0.9"/>
<line x1="446.60" y1="281.00" x2="446.60" y2="284.20" stroke="#1b5f80" stroke-width="0.9"/>
<line x1="451.20" y1="281.00" x2="451.20" y2="284.20" stroke="#1b5f80" stroke-width="0.9"/>
<line x1="455.80" y1="281.00" x2="455.80" y2="284.20" stroke="#1b5f80" stroke-width="0.9"/>
<line x1="490.70" y1="287.90" x2="490.70" y2="291.10" stroke="#1b5f80" stroke-width="0.9"/>
<text x="467.00" y="283.26" font-size="7.4" fill="#2f6994" stroke="#2f6994" font-weight="normal" textLength="48.50" lengthAdjust="spacingAndGlyphs">Non-infant ALL</text>
<text x="423.10" y="297.06" font-size="7.4" fill="#cc2a5a" stroke="#cc2a5a" font-weight="normal" textLength="32.70" lengthAdjust="spacingAndGlyphs">Infant ALL</text>
</svg></body></html>
